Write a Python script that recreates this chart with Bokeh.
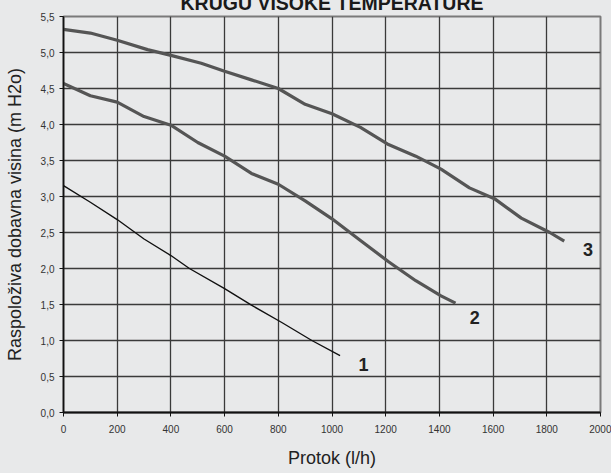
from bokeh.plotting import figure
from bokeh.models import FixedTicker, Range1d, GlobalInlineStyleSheet
from bokeh.core.properties import value
from bokeh.embed import file_html
from bokeh.resources import INLINE

# ---- data ----
title_text = "KRUGU VISOKE TEMPERATURE"
x_label = "Protok (l/h)"
y_label = "Raspoloživa dobavna visina (m H2o)"

flow1 = [0, 100, 200, 300, 400, 469, 600, 700, 813, 925, 1030]
head1 = [3.15, 2.92, 2.68, 2.41, 2.18, 2.00, 1.72, 1.49, 1.25, 1.00, 0.79]

flow2 = [0, 100, 200, 300, 400, 500, 600, 700, 800, 900, 1000, 1106, 1212, 1312, 1406, 1460]
head2 = [4.57, 4.40, 4.31, 4.11, 3.99, 3.75, 3.56, 3.32, 3.17, 2.94, 2.69, 2.39, 2.09, 1.83, 1.62, 1.52]

flow3 = [0, 100, 200, 313, 400, 513, 600, 700, 800, 900, 1000, 1106, 1206, 1312, 1406, 1512, 1605, 1705, 1811, 1865]
head3 = [5.32, 5.27, 5.17, 5.04, 4.96, 4.85, 4.74, 4.62, 4.50, 4.28, 4.15, 3.96, 3.73, 3.56, 3.38, 3.12, 2.97, 2.70, 2.50, 2.38]

curve_names = ["1", "2", "3"]
name_x = [1117, 1532, 1953]
name_y = [0.67, 1.32, 2.26]

x_ticks = [0, 200, 400, 600, 800, 1000, 1200, 1400, 1600, 1800, 2000]
y_ticks = [0.0, 0.5, 1.0, 1.5, 2.0, 2.5, 3.0, 3.5, 4.0, 4.5, 5.0, 5.5]
y_tick_labels = ["0,0", "0,5", "1,0", "1,5", "2,0", "2,5", "3,0", "3,5", "4,0", "4,5", "5,0", "5,5"]

BG = "#e8e9ea"
FONT = "Liberation Sans"
SHIFT = 24  # figure is moved up so that the title is cut at the top edge, as in the reference

p = figure(width=611, height=473 + SHIFT, output_backend="svg", toolbar_location=None,
           x_range=Range1d(0, 2000), y_range=Range1d(0, 5.5),
           min_border_left=63, min_border_right=11, min_border_top=16 + SHIFT, min_border_bottom=61,
           background_fill_color=BG, border_fill_color=BG)
p.margin = (-SHIFT, 0, 0, 0)
p.stylesheets = [GlobalInlineStyleSheet(
    css="html,body{margin:0;padding:0;background:#e8e9ea;overflow:hidden}")]

p.title.text = title_text
p.title.align = "center"
p.title.text_font = FONT
p.title.text_font_size = "19.5px"
p.title.text_font_style = "bold"
p.title.text_color = "#1a1a1a"
p.title.standoff = 6
p.title.offset = 10

p.outline_line_color = "#7a7a7a"
p.outline_line_width = 2

# grid
p.xgrid.ticker = FixedTicker(ticks=x_ticks)
p.ygrid.ticker = FixedTicker(ticks=y_ticks)
for g in (p.xgrid, p.ygrid):
    g.grid_line_color = "#3a3a3a"
    g.grid_line_width = 1.3

# axes
p.xaxis.ticker = FixedTicker(ticks=x_ticks)
p.yaxis.ticker = FixedTicker(ticks=y_ticks)
p.yaxis.major_label_overrides = {t: l for t, l in zip(y_ticks, y_tick_labels)}
for ax in (p.xaxis, p.yaxis):
    ax.axis_line_color = "#111111"
    ax.axis_line_width = 1.6
    ax.major_tick_line_color = "#111111"
    ax.major_tick_in = 0
    ax.major_tick_out = 4
    ax.minor_tick_line_color = None
    ax.major_label_text_font = FONT
    ax.major_label_text_font_size = "10px"
    ax.major_label_text_color = "#333333"
    ax.axis_label_text_font = FONT
    ax.axis_label_text_font_size = "18px"
    ax.axis_label_text_font_style = "normal"
    ax.axis_label_text_color = "#222222"
p.xaxis.axis_line_width = 2
p.xaxis.major_label_standoff = 8
p.xaxis.axis_label = x_label
p.xaxis.axis_label_standoff = 12
p.yaxis.major_label_standoff = 5
p.yaxis.axis_label = y_label
p.yaxis.axis_label_standoff = 13

# curves
p.line(flow3, head3, line_color="#555555", line_width=3.2)
p.line(flow2, head2, line_color="#555555", line_width=3.2)
p.line(flow1, head1, line_color="#111111", line_width=1.4)

p.text(x=name_x, y=name_y, text=curve_names, text_font=value(FONT), text_font_size="18px",
       text_font_style="bold", text_color="#222222", text_align="center", text_baseline="middle")

open("out.html", "w").write(file_html(p, INLINE))
